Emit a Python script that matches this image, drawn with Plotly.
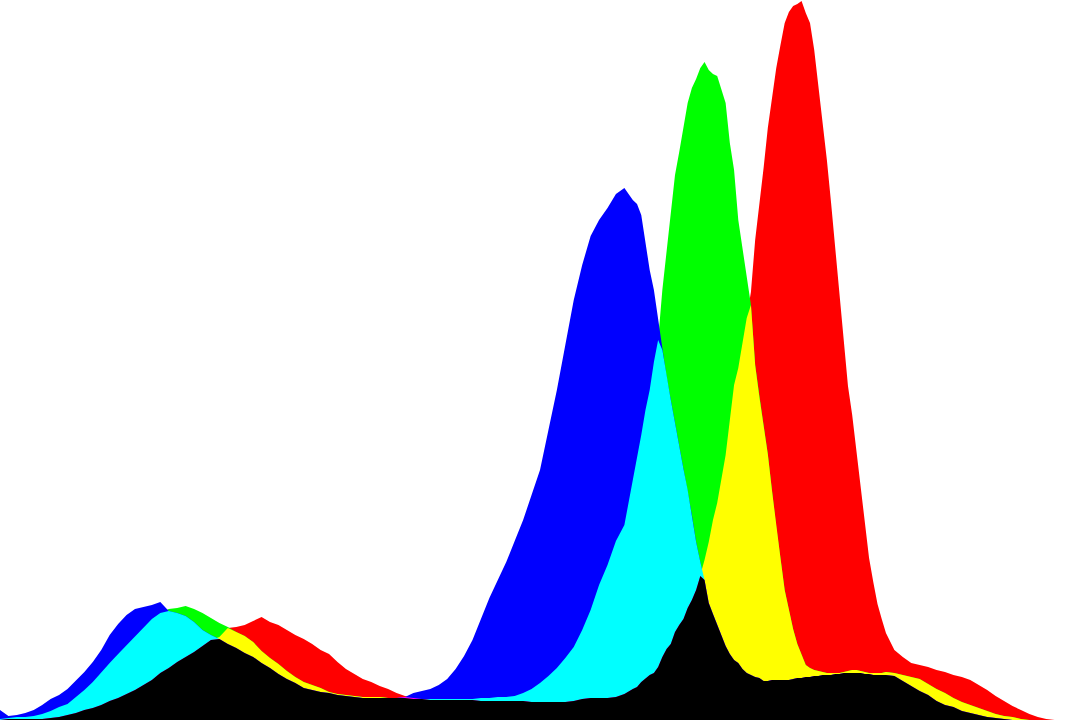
"""RGB histogram of an image, drawn with additive channel overlaps."""

import numpy as np
import plotly.graph_objects as go

# intensity levels the counts were read at (0-255)
levels = (
    list(range(0, 150, 2))
    + list(range(150, 211))
    + list(range(212, 256, 2))
    + [255]
)

# pixel counts per level
red = [
    0, 1, 1, 1, 1, 1, 2, 3, 5, 7, 10, 12, 15, 19, 22, 26, 30, 35, 40, 47,
    52, 58, 63, 68, 74, 80, 83, 92, 93, 95, 99, 103, 98, 95, 90, 85, 81, 76, 70, 66,
    58, 51, 46, 41, 38, 34, 31, 27, 24, 22, 21, 20, 20, 20, 20, 20, 20, 19, 19, 19,
    19, 19, 19, 18, 18, 18, 18, 18, 19, 21, 22, 22, 22, 23, 26,
    # 150-210
    31, 33, 38, 42, 45, 47, 53, 63, 71, 76, 88, 95, 101, 112, 120, 130, 144, 160, 178, 200,
    217, 240, 265, 300, 335, 352, 377, 402, 428, 480, 515, 552, 592, 622, 652, 675, 697, 708, 714, 716,
    719, 707, 697, 670, 635, 597, 560, 517, 470, 428, 378, 334, 305, 268, 232, 194, 162, 138, 116, 101,
    87,
    # 212-255
    70, 63, 57, 55, 53, 50, 48, 45, 43, 40, 35, 30, 24, 19, 14, 10, 6, 3, 1, 0,
    0, 0, 0,
]
green = [
    1, 2, 3, 3, 4, 6, 9, 13, 16, 23, 30, 38, 48, 57, 66, 75, 84, 93, 101, 107,
    111, 112, 114, 111, 107, 102, 97, 93, 88, 84, 78, 69, 62, 56, 49, 43, 38, 35, 32, 28,
    26, 25, 24, 23, 23, 23, 22, 22, 22, 21, 21, 21, 21, 21, 21, 21, 21, 22, 22, 23,
    23, 24, 27, 31, 37, 44, 52, 62, 73, 90, 110, 135, 155, 179, 195,
    # 150-210
    240, 262, 285, 310, 330, 358, 380, 430, 470, 510, 545, 568, 593, 617, 632, 641, 652, 658, 650, 646,
    644, 630, 617, 577, 550, 500, 470, 440, 415, 355, 323, 295, 266, 229, 193, 162, 130, 110, 91, 76,
    66, 55, 52, 50, 49, 48, 47, 47, 47, 47, 48, 49, 50, 50, 49, 48, 47, 47, 47, 47,
    48,
    # 212-255
    47, 45, 43, 41, 36, 31, 27, 22, 18, 15, 12, 9, 6, 4, 3, 1, 0, 0, 0, 0,
    0, 0, 0,
]
blue = [
    10, 4, 5, 7, 10, 15, 21, 25, 31, 39, 48, 58, 70, 85, 96, 105, 111, 113, 115, 118,
    109, 107, 104, 98, 90, 85, 81, 76, 72, 67, 63, 57, 52, 46, 41, 37, 32, 30, 28, 27,
    25, 24, 23, 22, 22, 22, 22, 22, 23, 27, 29, 31, 35, 41, 51, 64, 80, 102, 122, 140,
    158, 179, 200, 225, 250, 290, 330, 375, 420, 455, 484, 500, 512, 526, 532,
    # 150-210
    520, 516, 505, 475, 450, 430, 400, 370, 343, 320, 297, 272, 251, 230, 205, 178, 158, 140, 117, 106,
    95, 85, 74, 66, 60, 57, 51, 47, 45, 43, 42, 39, 39, 40, 40, 40, 40, 40, 41, 42,
    42, 43, 43, 44, 44, 45, 45, 45, 46, 46, 47, 47, 47, 47, 47, 46, 46, 45, 45, 45,
    45,
    # 212-255
    44, 39, 34, 29, 25, 19, 15, 13, 9, 7, 5, 3, 2, 1, 0, 0, 0, 0, 0, 0,
    0, 0, 0,
]

r = np.array(red)
g = np.array(green)
b = np.array(blue)

# later layers paint over earlier ones, so overlaps end up in the mixed colour
layers = [
    ("red", r, "#ff0000"),
    ("green", g, "#00ff00"),
    ("blue", b, "#0000ff"),
    ("red+green", np.minimum(r, g), "#ffff00"),
    ("green+blue", np.minimum(g, b), "#00ffff"),
    ("red+blue", np.minimum(r, b), "#ff00ff"),
    ("all", np.minimum(np.minimum(r, g), b), "#000000"),
]

fig = go.Figure()
for name, counts, color in layers:
    fig.add_trace(
        go.Scatter(
            x=levels,
            y=counts,
            name=name,
            mode="lines",
            line=dict(width=0, color=color),
            fill="tozeroy",
            fillcolor=color,
            hoverinfo="skip",
        )
    )

fig.update_layout(
    width=1080,
    height=720,
    margin=dict(l=0, r=0, t=0, b=0),
    paper_bgcolor="white",
    plot_bgcolor="white",
    showlegend=False,
)
fig.update_xaxes(range=[0, 256], visible=False)
fig.update_yaxes(range=[0, 720], visible=False)

# drop the default page margin so the figure sits flush in the window
fig.write_html(
    "out.html",
    config={"displayModeBar": False},
    post_script="document.body.style.margin='0';document.body.style.overflow='hidden';",
)
